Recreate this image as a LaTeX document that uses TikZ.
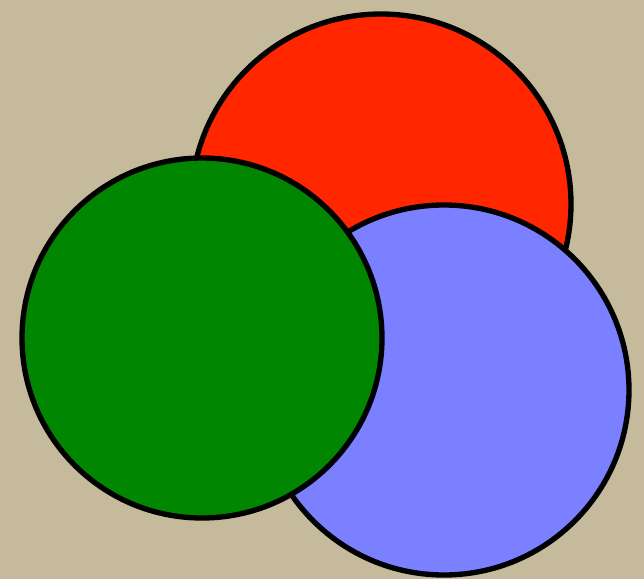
\documentclass[tikz,border=0pt]{standalone}
\usepackage{tikz}
\usetikzlibrary{positioning}

\definecolor{paper}{RGB}{197,186,156}
\definecolor{redfill}{RGB}{255,38,0}
\definecolor{bluefill}{RGB}{122,128,255}
\definecolor{greenfill}{RGB}{0,134,0}

\tikzset{
  disc/.style={circle, draw=black, line width=4pt, inner sep=0pt},
}

\begin{document}
\begin{tikzpicture}[x=0.75pt, y=-0.75pt]

      % Background
      \fill[paper] (0,0) rectangle (644,579);
      \useasboundingbox (0,0) rectangle (644,579);

      % Red disc (back)
      \node[disc, fill=redfill, minimum size=380*0.75pt] (red) at (381,204) {};

      % Blue disc (middle)
      \node[disc, fill=bluefill, minimum size=370*0.75pt] (blue) at (444,390) {};

      % Green disc (front)
      \node[disc, fill=greenfill, minimum size=360*0.75pt] (green) at (202,338) {};

    \end{tikzpicture}
\end{document}
